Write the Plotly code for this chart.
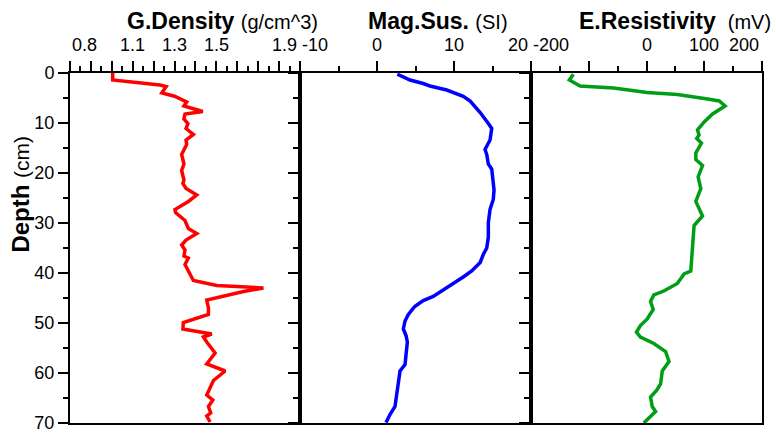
import plotly.graph_objects as go

# ---------------- data ----------------
dens_depth = [0, 1.4, 2.4, 2.7, 4.0, 4.65, 5.8, 6.6, 7.7, 8.2, 9.2, 10.1, 11.1, 12.3, 13.4, 14.3,
              16.3, 18.2, 19.5, 21.4, 22.1, 23.1, 24.4, 25.7, 27.3, 27.9, 29.5, 31.1, 32.1, 33.4,
              34.4, 35.4, 36.6, 37.0, 38.3, 39.6, 41.5, 42.5, 43.0, 43.7, 45.4, 47.0, 48.3, 49.9,
              51.2, 52.2, 52.8, 53.8, 56.0, 58.2, 59.6, 61.5, 64.4, 65.4, 66.7, 68.0, 68.6, 69.8]
dens_val = [1.004, 1.004, 1.23, 1.26, 1.239, 1.30, 1.358, 1.345, 1.435, 1.35, 1.345, 1.364, 1.355,
            1.39, 1.355, 1.358, 1.334, 1.345, 1.334, 1.345, 1.34, 1.355, 1.406, 1.366, 1.302, 1.305,
            1.35, 1.366, 1.406, 1.355, 1.334, 1.35, 1.345, 1.366, 1.35, 1.366, 1.39, 1.502, 1.725,
            1.63, 1.454, 1.462, 1.462, 1.342, 1.34, 1.478, 1.438, 1.454, 1.494, 1.454, 1.542, 1.486,
            1.454, 1.483, 1.462, 1.473, 1.454, 1.47]

mag_depth = [0.25, 1.4, 2.1, 2.6, 3.4, 4.65, 5.6, 7.9, 10.1, 11.1, 13.4, 15.3, 16.3, 18.2, 19.2,
             21.4, 23.4, 25.3, 27.3, 29.9, 32.8, 35.0, 36.3, 37.9, 39.6, 40.8, 42.1, 43.4, 44.7,
             45.5, 46.7, 48.3, 49.6, 51.2, 52.5, 53.8, 55.7, 58.3, 59.6, 62.2, 64.8, 66.7, 68.3, 69.9]
mag_val = [2.64, 4.29, 6.0, 6.88, 9.05, 11.2, 12.1, 13.4, 14.46, 14.9, 14.68, 14.03, 14.25, 14.46,
           14.9, 15.0, 15.2, 15.1, 14.68, 14.46, 14.46, 14.25, 13.8, 13.4, 12.3, 11.2, 9.9, 8.6,
           7.3, 6.0, 4.9, 4.07, 3.64, 3.42, 3.77, 3.94, 3.77, 3.64, 2.99, 2.77, 2.56, 2.34, 1.69, 1.17]

res_depth = [0.25, 1.4, 2.6, 3.0, 3.9, 4.3, 5.2, 5.6, 6.6, 8.2, 9.8, 11.4, 12.4, 13.1, 14.0, 16.0,
             17.3, 18.5, 20.8, 23.1, 25.7, 28.6, 30.5, 32.8, 36.3, 39.6, 40.2, 42.1, 43.6, 44.4,
             45.7, 47.3, 49.2, 50.5, 51.8, 52.8, 54.1, 55.7, 57.7, 59.6, 62.2, 63.5, 64.8, 66.7,
             67.7, 69.3, 70.0]
res_val = [-126.6, -133.6, -115, -57, 1, 53.4, 105.7, 126, 136, 114.4, 99.9, 88.3, 91, 87, 95.2,
           85.4, 85.4, 97, 89.4, 94, 85.4, 97, 82.4, 81.3, 79.6, 76.7, 65, 53.4, 30, 12.7, 7,
           11.6, 1.2, -10.5, -17.4, -10.5, 12.7, 33, 39, 27.3, 24.4, 17.4, 7, 9.9, 15.7, 1.2, -4.7]

depth_ticks = [0, 10, 20, 30, 40, 50, 60, 70]
dens_ticklabels = [0.8, 1.1, 1.3, 1.5, 1.9]
mag_ticklabels = [-10, 0, 10, 20]
res_ticklabels = [-200, 0, 100, 200]

# ---------------- figure ----------------
FONT = "Liberation Sans, Arial, sans-serif"
fig = go.Figure()
fig.add_trace(go.Scatter(x=dens_val, y=dens_depth, mode="lines",
                         line=dict(color="#ff0000", width=3.5), xaxis="x", yaxis="y"))
fig.add_trace(go.Scatter(x=mag_val, y=mag_depth, mode="lines",
                         line=dict(color="#0000ff", width=3.5), xaxis="x2", yaxis="y2"))
fig.add_trace(go.Scatter(x=res_val, y=res_depth, mode="lines",
                         line=dict(color="rgb(0,158,20)", width=3.5), xaxis="x3", yaxis="y3"))

d1, d2 = 230 / 692, 461 / 692
domains = [[0, d1], [d1, d2], [d2, 1]]
ranges = [[0.8, 1.9], [-10, 20], [-200, 200]]
dticks = [0.1, 10, 100]

def xax(i):
    return dict(domain=domains[i], range=ranges[i], side="top", anchor=["y", "y2", "y3"][i],
                showgrid=False, zeroline=False, showline=True, linecolor="black", linewidth=2,
                mirror=True, ticks="outside", ticklen=10, tickwidth=2, tickcolor="black",
                dtick=dticks[i], tick0=ranges[i][0], showticklabels=False,
                minor=dict(dtick=dticks[i] / 2, ticklen=5, tickwidth=2, tickcolor="black",
                           ticks="outside"))

def yax(i):
    return dict(range=[70, 0], domain=[0, 1], anchor=["x", "x2", "x3"][i],
                showgrid=False, zeroline=False, showline=True, linecolor="black", linewidth=2,
                mirror=True, ticks="outside", ticklen=10, tickwidth=2, tickcolor="black",
                tickvals=depth_ticks, showticklabels=(i == 0),
                tickfont=dict(family=FONT, size=18, color="black"),
                minor=dict(dtick=5, ticklen=5, tickwidth=2, tickcolor="black", ticks="outside"))

fig.update_layout(
    width=776, height=443,
    margin=dict(l=70, r=14, t=73, b=10),
    paper_bgcolor="white", plot_bgcolor="white",
    showlegend=False,
    xaxis=xax(0), xaxis2=xax(1), xaxis3=xax(2),
    yaxis=yax(0), yaxis2=yax(1), yaxis3=yax(2),
)

annotations = []
# top tick labels, with edge labels held inside the panel
for i, (labels, xr) in enumerate([(dens_ticklabels, "x"), (mag_ticklabels, "x2"),
                                  (res_ticklabels, "x3")]):
    lo, hi = ranges[i]
    for v in labels:
        if v == lo:
            anchor, shift = "left", 0
        elif v == hi:
            anchor, shift = "right", -1
        else:
            anchor, shift = "center", 0
        annotations.append(dict(x=v, xref=xr, y=1, yref="paper", yanchor="middle", yshift=28,
                                xanchor=anchor, xshift=shift, text=str(v), showarrow=False,
                                font=dict(family=FONT, size=18, color="black")))

titles = [("G.Density", "(g/cm^3)", 222), ("Mag.Sus.", "(SI)", 438),
          ("E.Resistivity", "&nbsp;(mV)", 675)]
for name, unit, cx in titles:
    annotations.append(dict(x=(cx - 70) / 692, xref="paper", y=1, yref="paper",
                            yanchor="middle", yshift=52, xanchor="center", showarrow=False,
                            text=f"<b>{name}</b> <span style='font-size:20px'>{unit}</span>",
                            font=dict(family=FONT, size=23, color="black")))

annotations.append(dict(x=0, xref="paper", xshift=-49, y=1 - (198 - 72.7) / 360.6, yref="paper",
                        xanchor="center", yanchor="middle", textangle=-90, showarrow=False,
                        text="<b>Depth</b> <span style='font-size:21px'>(cm)</span>",
                        font=dict(family=FONT, size=24, color="black")))
fig.update_layout(annotations=annotations)

fig.write_html("out.html")
